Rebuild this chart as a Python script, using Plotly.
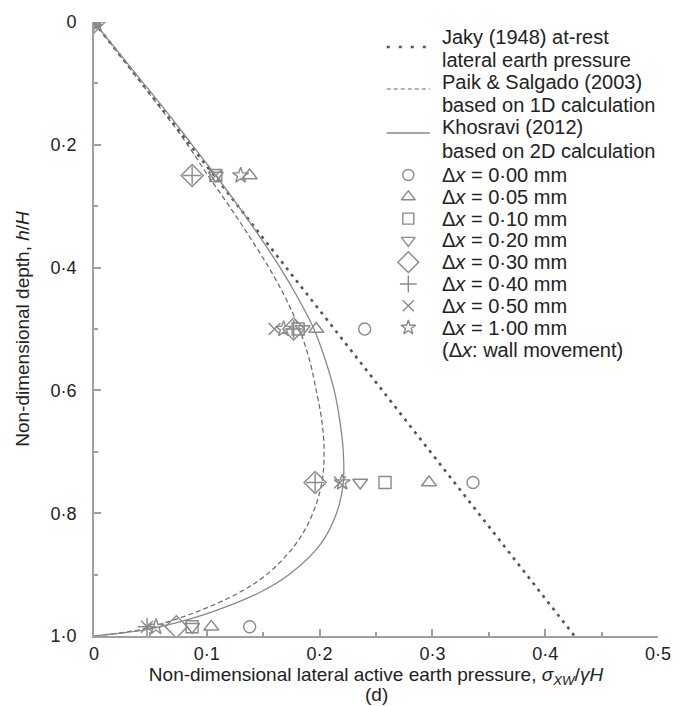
import plotly.graph_objects as go

# ---------------- data ----------------
jaky_x = [0.0, 0.426]
jaky_y = [0.0, 1.0]

curve_depth = [0, 0.05, 0.1, 0.15, 0.2, 0.25, 0.3, 0.35, 0.4, 0.45, 0.5, 0.55, 0.6,
               0.65, 0.7, 0.75, 0.8, 0.85, 0.9, 0.93, 0.96, 0.98, 0.99, 1.0]
paik_x = [0, 0.021, 0.042, 0.063, 0.083, 0.101, 0.120, 0.138, 0.155, 0.170, 0.182, 0.191,
          0.197, 0.202, 0.204, 0.202, 0.194, 0.179, 0.153, 0.128, 0.092, 0.060, 0.040, 0]
khosravi_x = [0, 0.022, 0.044, 0.066, 0.087, 0.108, 0.128, 0.147, 0.165, 0.181, 0.195, 0.205,
              0.213, 0.218, 0.221, 0.221, 0.215, 0.201, 0.173, 0.146, 0.106, 0.070, 0.045, 0]

meas_depth = [0.0, 0.25, 0.5, 0.75, 0.985]
dx_000 = [0.0, None, 0.240, 0.336, 0.138]
dx_005 = [0.0, 0.138, 0.197, 0.297, 0.104]
dx_010 = [0.0, 0.108, 0.181, 0.258, 0.087]
dx_020 = [0.0, 0.108, 0.185, 0.236, 0.087]
dx_030 = [0.0, 0.087, 0.177, 0.196, 0.073]
dx_040 = [0.0, 0.087, 0.177, 0.196, 0.047]
dx_050 = [0.0, 0.108, 0.160, 0.218, 0.047]
dx_100 = [0.0, 0.130, 0.168, 0.220, 0.055]

series_names = ["0·00", "0·05", "0·10", "0·20", "0·30", "0·40", "0·50", "1·00"]
series_vals = [dx_000, dx_005, dx_010, dx_020, dx_030, dx_040, dx_050, dx_100]
symbols = ["circle-open", "triangle-up-open", "square-open", "triangle-down-open",
           "diamond-open", "cross-thin-open", "x-thin-open", "star-open"]
sizes = [12, 13, 12, 13, 17, 13, 12, 12]

line_labels = [["Jaky (1948) at-rest", "lateral earth pressure"],
               ["Paik & Salgado (2003)", "based on 1D calculation"],
               ["Khosravi (2012)", "based on 2D calculation"]]
note_label = "(Δ<i>x</i>: wall movement)"

x_tickvals = [0, 0.1, 0.2, 0.3, 0.4, 0.5]
x_ticktext = ["0", "0·1", "0·2", "0·3", "0·4", "0·5"]
y_tickvals = [0, 0.2, 0.4, 0.6, 0.8, 1.0]
y_ticktext = ["0", "0·2", "0·4", "0·6", "0·8", "1·0"]

# ---------------- styles ----------------
MK = "#8a8a8a"
FONT = "Liberation Sans, Arial, Helvetica, sans-serif"
line_styles = [dict(color="#555555", width=2.6, dash="3px,5px"),
               dict(color="#666666", width=1.2, dash="5px,3px"),
               dict(color="#888888", width=1.3, dash="solid")]
legend_line_styles = [dict(color="#555555", width=2.6, dash="3px,9px"),
                      dict(color="#666666", width=1.2, dash="4px,3px"),
                      dict(color="#888888", width=1.3, dash="solid")]

# plot area in pixels
L, R, T, B = 94, 670, 22, 636
W, H = 683, 706

fig = go.Figure()
fig.add_trace(go.Scatter(x=jaky_x, y=jaky_y, mode="lines", line=line_styles[0]))
fig.add_trace(go.Scatter(x=paik_x, y=curve_depth, mode="lines", line_shape="spline",
                         line=line_styles[1]))
fig.add_trace(go.Scatter(x=khosravi_x, y=curve_depth, mode="lines", line_shape="spline",
                         line=line_styles[2]))
for vals, sym, sz in zip(series_vals, symbols, sizes):
    fig.add_trace(go.Scatter(x=vals, y=meas_depth, mode="markers",
                             marker=dict(symbol=sym, size=sz, color=MK,
                                         line=dict(color=MK, width=1.4))))

# ---------------- legend (drawn on a hidden pixel-scaled overlay axis) ----------------
leg_sym_x = 415          # centre of legend symbols (px)
leg_line = (393, 437)    # extent of legend line samples (px)
leg_text_x = 447         # left edge of legend text (px)
text_rows = [37, 60, 82, 105, 127, 151]
sample_rows = [47, 89, 133]
annotations = []
for i, (lbl, st) in enumerate(zip(line_labels, legend_line_styles)):
    fig.add_trace(go.Scatter(x=list(leg_line), y=[sample_rows[i]] * 2, mode="lines",
                             line=st, xaxis="x2", yaxis="y2"))
    for j, t in enumerate(lbl):
        annotations.append(dict(x=leg_text_x, y=text_rows[2 * i + j], xref="x2", yref="y2",
                                text=t, showarrow=False, xanchor="left", yanchor="middle",
                                font=dict(size=20, family=FONT, color="#222222")))
first_mk_row = 175
for i, (nm, sym, sz) in enumerate(zip(series_names, symbols, sizes)):
    yy = first_mk_row + i * 21.8
    fig.add_trace(go.Scatter(x=[leg_sym_x], y=[yy], mode="markers", xaxis="x2", yaxis="y2",
                             marker=dict(symbol=sym, size=max(sz - 1, 11), color=MK,
                                         line=dict(color=MK, width=1.4))))
    annotations.append(dict(x=leg_text_x, y=yy, xref="x2", yref="y2",
                            text="Δ<i>x</i> = " + nm + " mm", showarrow=False,
                            xanchor="left", yanchor="middle",
                            font=dict(size=20, family=FONT, color="#222222")))
annotations.append(dict(x=leg_text_x, y=first_mk_row + 8 * 21.8 + 1, xref="x2", yref="y2",
                        text=note_label, showarrow=False, xanchor="left", yanchor="middle",
                        font=dict(size=20, family=FONT, color="#222222")))
# panel label
annotations.append(dict(x=0.5, y=-(694 - B) / (B - T), xref="paper", yref="paper",
                        text="(d)", showarrow=False, xanchor="center", yanchor="middle",
                        font=dict(size=19, family=FONT, color="#222222")))

fig.update_layout(
    width=W, height=H,
    margin=dict(l=L, r=W - R, t=T, b=H - B),
    paper_bgcolor="white", plot_bgcolor="white",
    font=dict(family=FONT, size=18, color="#222222"),
    showlegend=False,
    annotations=annotations,
    xaxis2=dict(overlaying="x", range=[L, R], visible=False, anchor="y2",
                fixedrange=True),
    yaxis2=dict(overlaying="y", range=[B, T], visible=False, anchor="x2",
                fixedrange=True),
)
fig.layout.xaxis.update(range=[0, 0.5], tickvals=x_tickvals, ticktext=x_ticktext,
                        showgrid=False, zeroline=False, showline=True, linecolor="#a0a0a0",
                        linewidth=2, ticks="inside", ticklen=7, tickcolor="#a0a0a0",
                        tickwidth=1.5, ticklabeloverflow="allow",
                        minor=dict(dtick=0.05, ticks="inside", ticklen=4,
                                   tickcolor="#a0a0a0"),
                        title=dict(text="Non-dimensional lateral active earth pressure, "
                                        "<i>σ</i><sub><i>XW</i></sub>/<i>γH</i>",
                                   standoff=0, font=dict(size=19)),
                        tickfont=dict(size=18), ticklabelstandoff=0)
fig.layout.yaxis.update(range=[1.0, 0], tickvals=y_tickvals, ticktext=y_ticktext,
                        showgrid=False, zeroline=False, showline=True, linecolor="#a0a0a0",
                        linewidth=2, ticks="inside", ticklen=7, tickcolor="#a0a0a0",
                        tickwidth=1.5,
                        minor=dict(dtick=0.1, ticks="inside", ticklen=4,
                                   tickcolor="#a0a0a0"),
                        title=dict(text="Non-dimensional depth, <i>h</i>/<i>H</i>",
                                   standoff=16, font=dict(size=19)),
                        tickfont=dict(size=18), ticklabelstandoff=12)

fig.write_html("out.html")
